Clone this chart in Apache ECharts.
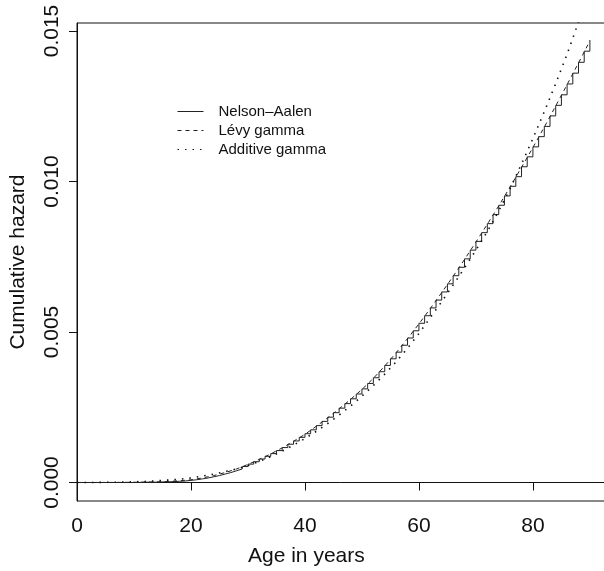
<!DOCTYPE html>
<html lang="en">
<head>
    <meta charset="UTF-8">
    <title>Cumulative hazard</title>
    <style>
        html, body { margin: 0; padding: 0; background: #fff; }
        #container { width: 604px; height: 571px; }
    </style>
</head>
<body>
<div id="container"></div>
<script src="https://cdn.jsdelivr.net/npm/echarts@6/dist/echarts.min.js"></script>
<script type="text/javascript">
    // yearly ages for the Nelson-Aalen step curve
    var naAges = [0, 1, 2, 3, 4, 5, 6, 7, 8, 9, 10, 11, 12, 13, 14, 15, 16, 17, 18, 19,
        20, 21, 22, 23, 24, 25, 26, 27, 28, 29, 30, 31, 32, 33, 34, 35, 36, 37, 38, 39,
        40, 41, 42, 43, 44, 45, 46, 47, 48, 49, 50, 51, 52, 53, 54, 55, 56, 57, 58, 59,
        60, 61, 62, 63, 64, 65, 66, 67, 68, 69, 70, 71, 72, 73, 74, 75, 76, 77, 78, 79,
        80, 81, 82, 83, 84, 85, 86, 87, 88, 89, 90];
    var nelsonAalen = [0, 0, 0, 0, 0, 0, 0, 0, 0, 0, 0,
        0.00001, 0.00001, 0.00001, 0.00002, 0.00002, 0.00003, 0.00004, 0.00005, 0.00007, 0.00009,
        0.00012, 0.00015, 0.00019, 0.00023, 0.00028, 0.00033, 0.00039, 0.00045, 0.00053, 0.00061,
        0.00069, 0.00078, 0.00087, 0.00096, 0.00106, 0.00116, 0.00127, 0.00138, 0.0015, 0.00162,
        0.00175, 0.00189, 0.00203, 0.00217, 0.00232, 0.00247, 0.00262, 0.00278, 0.00294, 0.00311,
        0.00329, 0.00348, 0.00368, 0.00389, 0.00411, 0.00433, 0.00456, 0.0048, 0.00504, 0.00529,
        0.00554, 0.0058, 0.00606, 0.00633, 0.0066, 0.00687, 0.00715, 0.00743, 0.00772, 0.00801,
        0.0083, 0.0086, 0.0089, 0.00921, 0.00952, 0.00984, 0.01016, 0.01049, 0.01082, 0.01115,
        0.01149, 0.01183, 0.01218, 0.01253, 0.01288, 0.01324, 0.0136, 0.01396, 0.01433, 0.0147];

    // ages for the two fitted curves
    var fitAges = [0, 2, 4, 6, 8, 10, 12, 14, 16, 18, 20, 22, 24, 26, 28, 30, 32, 34, 36, 38,
        40, 42, 44, 46, 48, 50, 52, 54, 56, 58, 60, 62, 64, 66, 68, 70, 72, 74, 76, 78,
        80, 82, 84, 86, 88, 90];
    var levyGamma = [0, 0, 0.000001, 0.000002, 0.000004, 0.000007, 0.000012, 0.00002, 0.000035, 0.000058,
        0.00009, 0.00015, 0.00023, 0.00033, 0.00045, 0.0006, 0.00077, 0.00095, 0.00115, 0.00137,
        0.0016, 0.00187, 0.00215, 0.00245, 0.00276, 0.00309, 0.00346, 0.00387, 0.00431, 0.00478,
        0.00527, 0.00578, 0.00631, 0.00685, 0.00741, 0.00799, 0.00858, 0.00919, 0.00982, 0.01047,
        0.01113, 0.01181, 0.01251, 0.01322, 0.01394, 0.01467];
    var additiveGamma = [0, 0.000001, 0.000003, 0.000007, 0.000013, 0.000022, 0.000035, 0.000055, 0.00008, 0.00011,
        0.00015, 0.00021, 0.00028, 0.00036, 0.00045, 0.00056, 0.0007, 0.00086, 0.00104, 0.00124,
        0.00146, 0.0017, 0.00196, 0.00224, 0.00254, 0.00287, 0.00322, 0.0036, 0.00401, 0.00446,
        0.00495, 0.00548, 0.00601, 0.00656, 0.00713, 0.00772, 0.00834, 0.00902, 0.00976, 0.01058,
        0.01143, 0.01232, 0.01325, 0.01423, 0.0153, 0.0164];

    var xTicks = [0, 20, 40, 60, 80];
    var yTicks = [0, 0.005, 0.010, 0.015];
    var yTickLabels = ['0.000', '0.005', '0.010', '0.015'];

    function pairs(xs, ys) {
        return xs.map(function (x, i) { return [x, ys[i]]; });
    }

    var font = 'Liberation Sans, Arial, Helvetica, sans-serif';
    var chart = echarts.init(document.getElementById('container'), null, {renderer: 'canvas'});

    var option = {
        animation: false,
        backgroundColor: '#fff',
        textStyle: {fontFamily: font, color: '#111'},
        grid: {
            left: 77, top: 23, width: 530, height: 478,
            show: true, borderColor: '#111', borderWidth: 1,
            containLabel: false, outerBoundsMode: 'none'
        },
        legend: {
            orient: 'vertical',
            left: 172, top: 99,
            itemWidth: 26, itemHeight: 14, itemGap: 4,
            itemStyle: {opacity: 0},
            lineStyle: {width: 1},
            textStyle: {fontFamily: font, fontSize: 15, color: '#111', padding: [0, 0, 0, 10]},
            data: ['Nelson\u2013Aalen', 'L\u00e9vy gamma', 'Additive gamma']
        },
        xAxis: {
            type: 'value', min: 0, max: 93,
            axisLine: {lineStyle: {color: '#111', width: 1}},
            axisTick: {show: true, inside: false, length: 8, customValues: xTicks, lineStyle: {color: '#111'}},
            axisLabel: {customValues: xTicks, margin: 15, fontSize: 21, color: '#111', fontFamily: font},
            splitLine: {show: false}
        },
        yAxis: {
            type: 'value', min: -0.000615, max: 0.015266,
            axisLine: {show: true, lineStyle: {color: '#111', width: 1}},
            axisTick: {show: true, inside: false, length: 8, customValues: yTicks, lineStyle: {color: '#111'}},
            axisLabel: {
                customValues: yTicks, rotate: 90, margin: 14, fontSize: 21, color: '#111', fontFamily: font,
                formatter: function (v) {
                    var k = yTicks.findIndex(function (t) { return Math.abs(t - v) < 1e-9; });
                    return k >= 0 ? yTickLabels[k] : '';
                }
            },
            splitLine: {show: false},
            name: 'Cumulative hazard', nameLocation: 'middle', nameGap: 48,
            nameTextStyle: {fontSize: 21, color: '#111', fontFamily: font}
        },
        graphic: [{
            type: 'text', left: 248, top: 546,
            style: {text: 'Age in years', fontSize: 21, fill: '#111', fontFamily: font}
        }],
        series: [
            {
                name: 'Nelson\u2013Aalen', type: 'line', step: 'end', symbol: 'none',
                data: pairs(naAges, nelsonAalen),
                lineStyle: {color: '#222', width: 1, type: 'solid'},
                itemStyle: {color: '#222'}
            },
            {
                name: 'L\u00e9vy gamma', type: 'line', symbol: 'none',
                data: pairs(fitAges, levyGamma),
                lineStyle: {color: '#222', width: 1, type: [4, 4]},
                itemStyle: {color: '#222'}
            },
            {
                name: 'Additive gamma', type: 'line', symbol: 'none',
                data: pairs(fitAges, additiveGamma),
                lineStyle: {color: '#111', width: 1.6, type: [1.5, 6]},
                itemStyle: {color: '#111'}
            }
        ]
    };
    chart.setOption(option);
</script>
</body>
</html>
